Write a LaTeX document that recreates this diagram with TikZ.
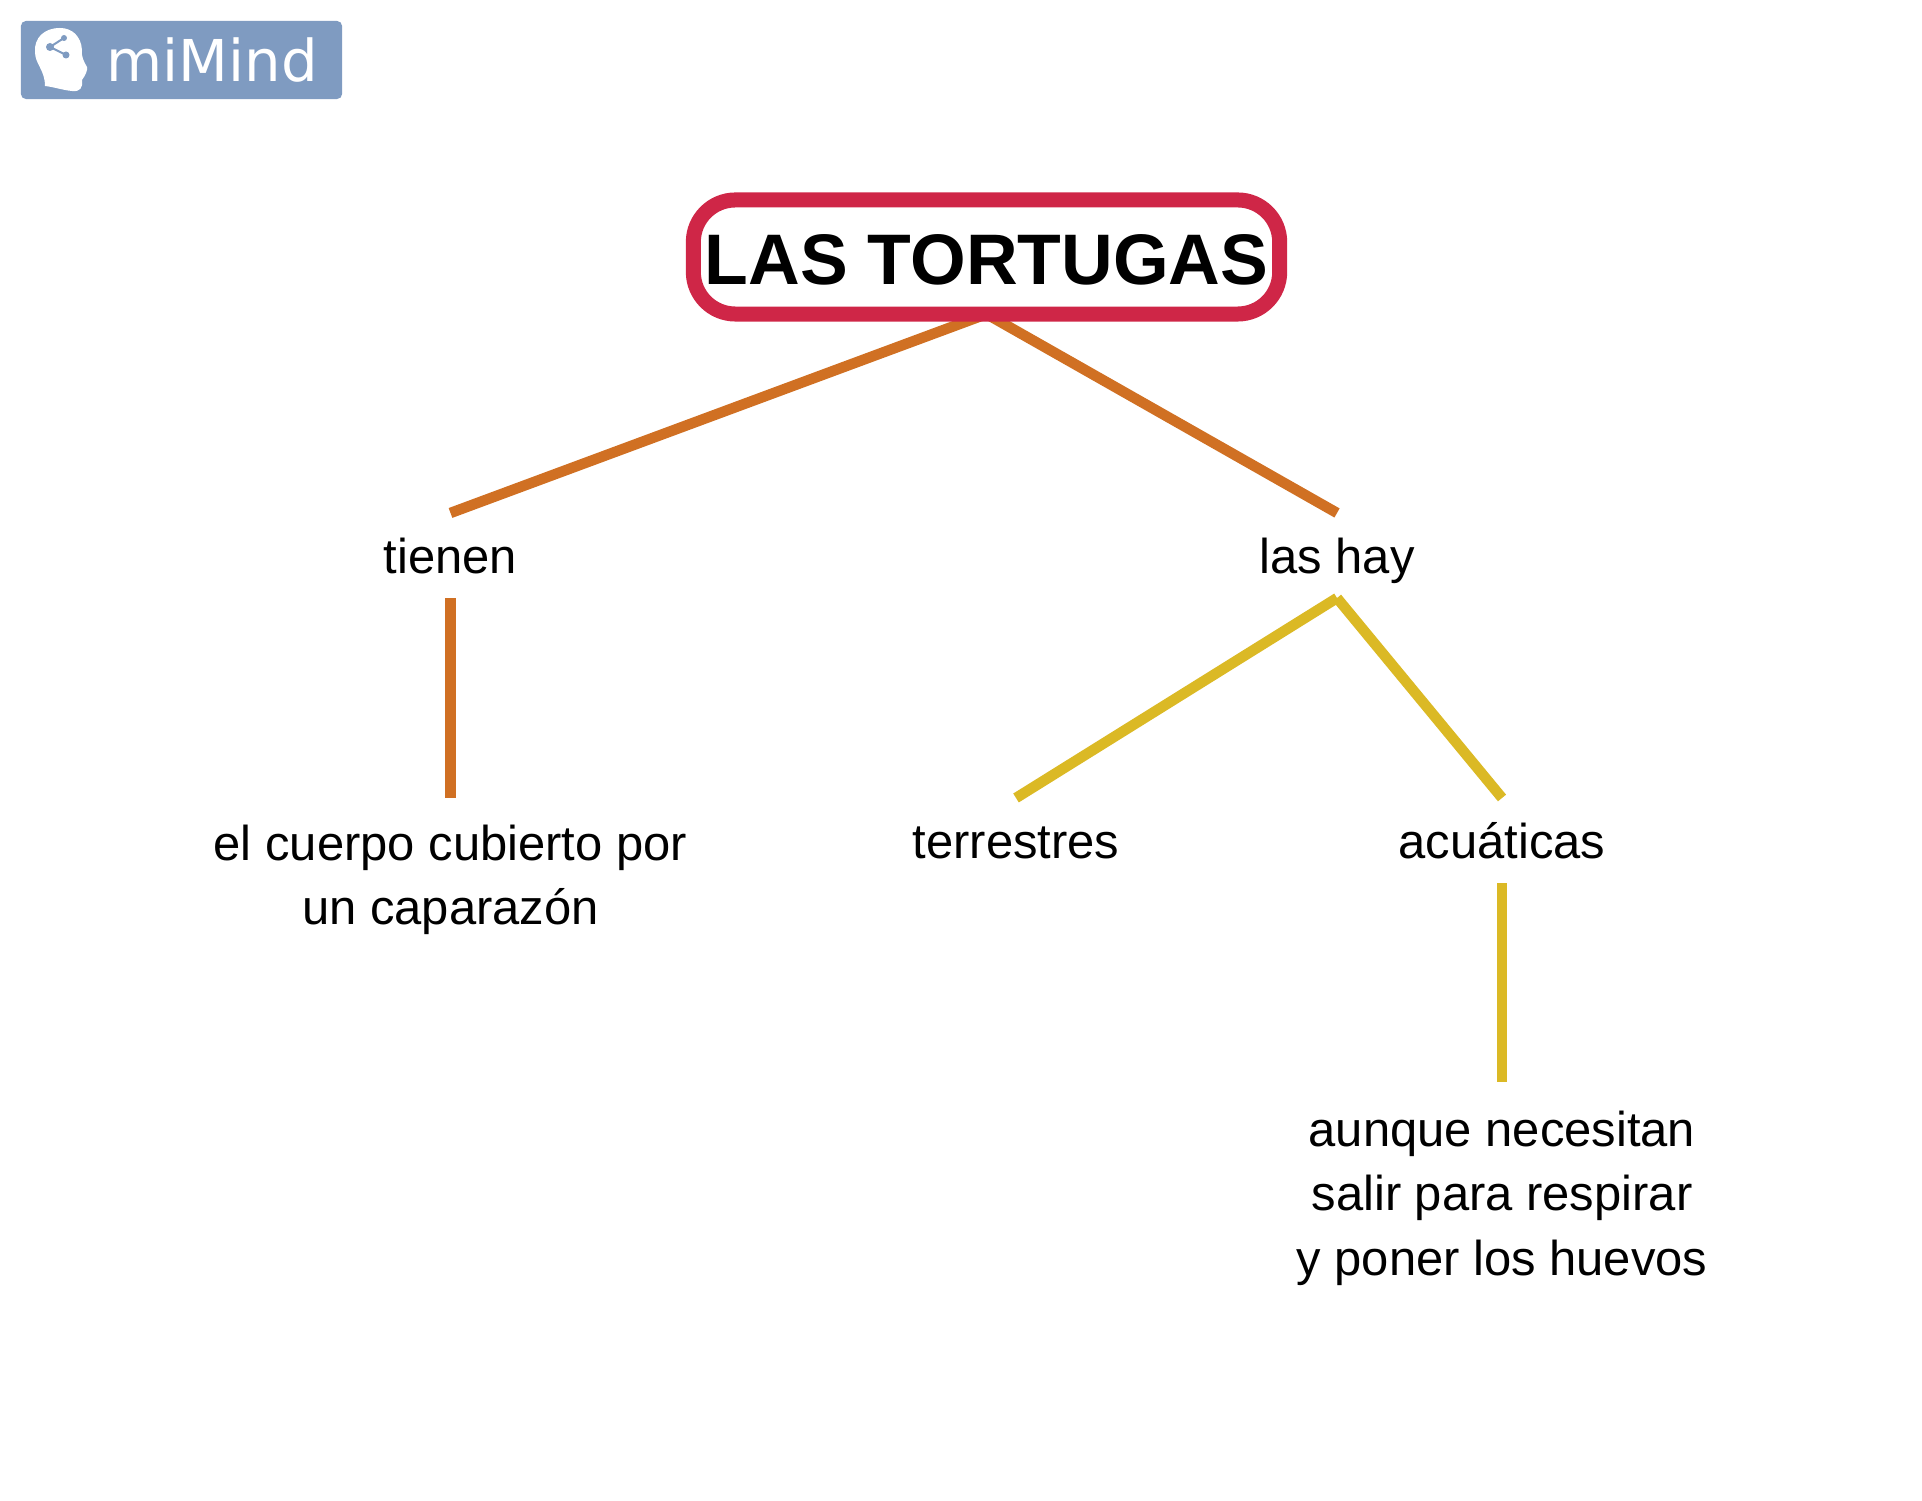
\documentclass[tikz,border=0pt]{standalone}
\usepackage{fontspec}
\usetikzlibrary{backgrounds}
\setmainfont{Liberation Sans}
\newfontfamily\logofont{DejaVu Sans}
\definecolor{logoblue}{HTML}{7F9BC1}
\definecolor{rootred}{HTML}{CF2647}
\definecolor{branchorange}{HTML}{D07023}
\definecolor{branchyellow}{HTML}{DBB925}
\tikzset{
  concept/.style={align=center,inner sep=0pt,outer sep=0pt,
    font=\fontsize{13.92}{18.3}\selectfont},
  oneline/.style={concept,minimum height=.85cm,text height=.365cm,text depth=0pt},
  rootbox/.style={draw=rootred,line width=.15cm,rounded corners=.42cm,fill=white,inner sep=0pt,
    outer sep=0pt,minimum width=5.86cm,minimum height=1.14cm,text height=.55cm,text depth=0pt,
    font=\fontsize{20.35}{24}\selectfont\bfseries},
  orangeline/.style={every edge/.style={draw=branchorange,line width=.105cm}},
  yellowline/.style={every edge/.style={draw=branchyellow,line width=.105cm}}
}
\begin{document}
\begin{tikzpicture}[x=.01cm,y=-.01cm]

        \useasboundingbox (0,0) rectangle (1922,1501);

        \node (logo) at (181.5,60) [fill=logoblue,rounded corners=.05cm,inner sep=0pt,
          minimum width=3.21cm,minimum height=.78cm] {};
        \node (logotext) at (212,60.5) [text=white,inner sep=0pt,
          font=\logofont\fontsize{16.4}{20}\selectfont] {miMind};
        \fill[white] (60,28) .. controls (44,28) and (34,38) .. (35,52)
          .. controls (35,64) and (45,70) .. (45,86)
          .. controls (54,87) and (62,90) .. (72,91)
          .. controls (80,92) and (83,88) .. (82,80)
          .. controls (85,76) and (88,70) .. (87,67)
          .. controls (84,62) and (81,56) .. (82,50)
          .. controls (81,36) and (72,28) .. (60,28) -- cycle;
        \draw[logoblue,line width=.02cm] (64,38) -- (50,47) -- (66,55);
        \fill[logoblue] (50,47) circle (4) (64,38) circle (3) (66,55) circle (3.5);

        \node[rootbox] (root) at (986.5,257) {LAS TORTUGAS};

        \begin{scope}[every node/.style={oneline}]
          \node (tienen)    at (450.5,555.5)  {tienen};
          \node (lashay)    at (1337,555.5) {las hay};
          \node (terrestres) at (1016,840.5) {terrestres};
          \node (acuaticas) at (1502,840.5) {acuáticas};
        \end{scope}

        \node[concept,minimum height=1.64cm] (cuerpo) at (450.5,880) {el cuerpo cubierto por\\un caparazón};
        \node[concept,minimum height=2.32cm] (huevos) at (1502,1198) {aunque necesitan\\salir para respirar\\y poner los huevos};

        \begin{scope}[on background layer]
          \begin{scope}[orangeline]
            \path (root.south)   edge (tienen.north);
            \path (root.south)   edge (lashay.north);
            \path (tienen.south) edge (cuerpo.north);
          \end{scope}

          \begin{scope}[yellowline]
            \path (lashay.south)    edge (terrestres.north);
            \path (lashay.south)    edge (acuaticas.north);
            \path (acuaticas.south) edge (huevos.north);
          \end{scope}
        \end{scope}

      \end{tikzpicture}
\end{document}
